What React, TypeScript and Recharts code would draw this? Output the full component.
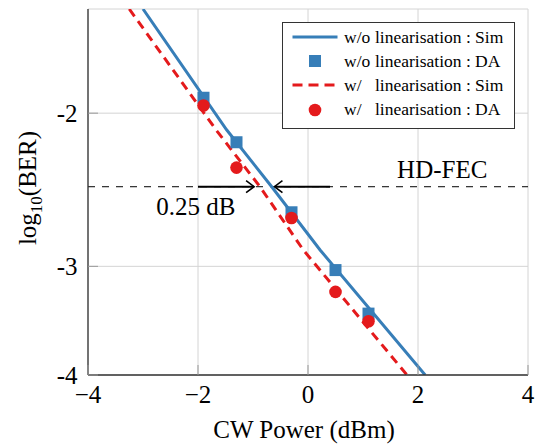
import React from "react"
import { ComposedChart, Line, Scatter, XAxis, YAxis, CartesianGrid, ReferenceLine, ReferenceDot, Legend } from "recharts"

// simulated curves (x = CW power in dBm, y = log10 BER)
const simPowerWo = [-3.0, -1.48, -0.66, 0.22, 2.13]
const simBerWo = [-1.518, -2.09, -2.43, -2.873, -4.0]
const simPowerW = [-3.25, -1.673, -0.873, -0.085, 1.8]
const simBerW = [-1.518, -2.09, -2.43, -2.873, -4.0]

// measured (DA) points
const daPower = [-1.9, -1.3, -0.3, 0.5, 1.1]
const daBerWo = [-1.92, -2.16, -2.6, -3.03, -3.4]
const daBerW = [-1.96, -2.31, -2.64, -3.21, -3.47]

const hdFec = -2.43
const xTicks = [-4, -2, 0, 2, 4]
const yTicks = [-2, -3, -4]

const BLUE = "#377eb8"
const RED = "#e41a1c"
const FONT = "'Liberation Serif', 'Times New Roman', serif"
const FRAME = "#333"
const TICK = "#999"
const txt = { fontFamily: FONT }

// the y axis is log-scaled on -log10(BER), so store the positive value
const rows = (xs: number[], ys: number[]) => xs.map((x, i) => ({ x, y: -ys[i] }))
const blueSim = rows(simPowerWo, simBerWo)
const redSim = rows(simPowerW, simBerW)
const blueDA = rows(daPower, daBerWo)
const redDA = rows(daPower, daBerW)
const fecY = -hdFec

const fmtX = (v: number) => (v < 0 ? "\u2212" + Math.abs(v) : String(v))

const BottomTick = (p: any) => (
  <g>
    <line x1={p.x} x2={p.x} y1={p.y} y2={p.y - 10} stroke={TICK} />
    <text x={p.x} y={p.y + 28} textAnchor="middle" fontSize={25} style={txt} fill="#000">{fmtX(p.payload.value)}</text>
  </g>
)
const TopTick = (p: any) => <line x1={p.x} x2={p.x} y1={p.y} y2={p.y + 10} stroke={TICK} />
const LeftTick = (p: any) => (
  <g>
    <line x1={p.x} x2={p.x + 10} y1={p.y} y2={p.y} stroke={TICK} />
    <text x={p.x - 10.5} y={p.y + 8.5} textAnchor="end" fontSize={25} style={txt} fill="#000">{"-" + p.payload.value}</text>
  </g>
)
const RightTick = (p: any) => <line x1={p.x} x2={p.x - 10} y1={p.y} y2={p.y} stroke={TICK} />

const Arrow = (p: any) => {
  const dir = Math.sign(p.x2 - p.x1)
  return (
    <g>
      <line x1={p.x1} y1={p.y1} x2={p.x2} y2={p.y2} stroke="#000" strokeWidth={2} />
      <path d={`M${p.x2 - dir * 8},${p.y2 - 6} L${p.x2},${p.y2} L${p.x2 - dir * 8},${p.y2 + 6}`} fill="none" stroke="#000" strokeWidth={1.6} />
    </g>
  )
}

const legendItems = [
  { pre: "w/o", text: "linearisation : Sim", kind: "line", color: BLUE },
  { pre: "w/o", text: "linearisation : DA", kind: "square", color: BLUE },
  { pre: "w/", text: "linearisation : Sim", kind: "dash", color: RED },
  { pre: "w/", text: "linearisation : DA", kind: "circle", color: RED },
]

const LegendBox = () => (
  <div style={{ border: `1.3px solid ${FRAME}`, background: "#fff", width: 231, height: 103, paddingTop: 2, boxSizing: "content-box", fontFamily: FONT, fontSize: 17.5, color: "#000" }}>
    {legendItems.map((it, i) => (
      <div key={i} style={{ display: "flex", alignItems: "center", height: 24.2, whiteSpace: "nowrap" }}>
        <svg width={61} height={20} style={{ flex: "none" }}>
          {it.kind === "line" && <line x1={9.5} x2={54.5} y1={10} y2={10} stroke={it.color} strokeWidth={3} />}
          {it.kind === "dash" && <line x1={9.5} x2={54.5} y1={10} y2={10} stroke={it.color} strokeWidth={3} strokeDasharray="10 6" />}
          {it.kind === "square" && <rect x={26} y={4} width={12} height={12} fill={it.color} />}
          {it.kind === "circle" && <circle cx={32} cy={10} r={6.3} fill={it.color} />}
        </svg>
        <span style={{ display: "inline-block", width: 31 }}>{it.pre}</span>
        <span>{it.text}</span>
      </div>
    ))}
  </div>
)

export default function App() {
  return (
    <div style={{ position: "absolute", left: 0, top: 0 }}>
      <ComposedChart width={536} height={444} margin={{ top: 9, right: 8, bottom: 29, left: 28 }}>
        <CartesianGrid stroke="#d4d4d4" />
        <XAxis
          type="number" dataKey="x" domain={[-4, 4]} ticks={xTicks} allowDataOverflow
          height={40} tickSize={0} tickMargin={0} tick={BottomTick}
          axisLine={{ stroke: FRAME, strokeWidth: 1.3 }}
          label={{ content: (p: any) => (
            <text x={p.viewBox.x + p.viewBox.width / 2 - 4} y={438} textAnchor="middle" fontSize={25} style={txt} fill="#000">CW Power (dBm)</text>
          ) }}
        />
        <XAxis xAxisId="t" orientation="top" type="number" domain={[-4, 4]} ticks={xTicks} allowDataOverflow
          height={0} tickSize={0} tickMargin={0} tick={TopTick} axisLine={{ stroke: FRAME, strokeWidth: 1.3 }} />
        <YAxis
          type="number" scale="log" domain={[1.518, 4]} reversed allowDataOverflow ticks={yTicks.map((v) => -v)}
          width={60} tickSize={0} tickMargin={0} tick={LeftTick}
          axisLine={{ stroke: FRAME, strokeWidth: 1.3 }}
          label={{ content: (p: any) => {
            const cx = 36
            const cy = p.viewBox.y + p.viewBox.height / 2 - 4
            return (
              <text x={cx} y={cy} transform={`rotate(-90, ${cx}, ${cy})`} textAnchor="middle" fontSize={25} style={txt} fill="#000">
                <tspan>log</tspan>
                <tspan fontSize={17} dy={6}>10</tspan>
                <tspan dy={-6}>(BER)</tspan>
              </text>
            )
          } }}
        />
        <YAxis yAxisId="r" orientation="right" type="number" scale="log" domain={[1.518, 4]} reversed allowDataOverflow
          ticks={yTicks.map((v) => -v)} width={0} tickSize={0} tickMargin={0} tick={RightTick}
          axisLine={{ stroke: FRAME, strokeWidth: 1.3 }} />

        <ReferenceLine y={fecY} stroke="#000" strokeWidth={1} strokeDasharray="7 7" />
        <ReferenceLine segment={[{ x: -2, y: fecY }, { x: -0.98, y: fecY }]} shape={Arrow} />
        <ReferenceLine segment={[{ x: 0.4, y: fecY }, { x: -0.61, y: fecY }]} shape={Arrow} />

        <Line data={blueSim} dataKey="y" type="linear" stroke={BLUE} strokeWidth={3} dot={false} isAnimationActive={false} />
        <Scatter data={blueDA} dataKey="y" fill={BLUE} isAnimationActive={false}
          shape={(p: any) => <rect x={p.cx - 6} y={p.cy - 6} width={12} height={12} fill={BLUE} />} />
        <Line data={redSim} dataKey="y" type="linear" stroke={RED} strokeWidth={3} strokeDasharray="9 6" dot={false} isAnimationActive={false} />
        <Scatter data={redDA} dataKey="y" fill={RED} isAnimationActive={false}
          shape={(p: any) => <circle cx={p.cx} cy={p.cy} r={6.3} fill={RED} />} />

        <ReferenceDot x={-2.76} y={2.62} r={0} fill="none" stroke="none"
          label={{ content: (p: any) => (
            <text x={p.viewBox.x} y={p.viewBox.y} fontSize={25} style={txt} fill="#000">0.25 dB</text>
          ) }} />
        <ReferenceDot x={1.62} y={2.374} r={0} fill="none" stroke="none"
          label={{ content: (p: any) => (
            <text x={p.viewBox.x} y={p.viewBox.y} fontSize={25} style={txt} fill="#000">HD-FEC</text>
          ) }} />

        <Legend layout="vertical" align="center" verticalAlign="middle" content={LegendBox}
          wrapperStyle={{ left: 282, top: 22, width: "auto", height: "auto" }} />
      </ComposedChart>
    </div>
  )
}
